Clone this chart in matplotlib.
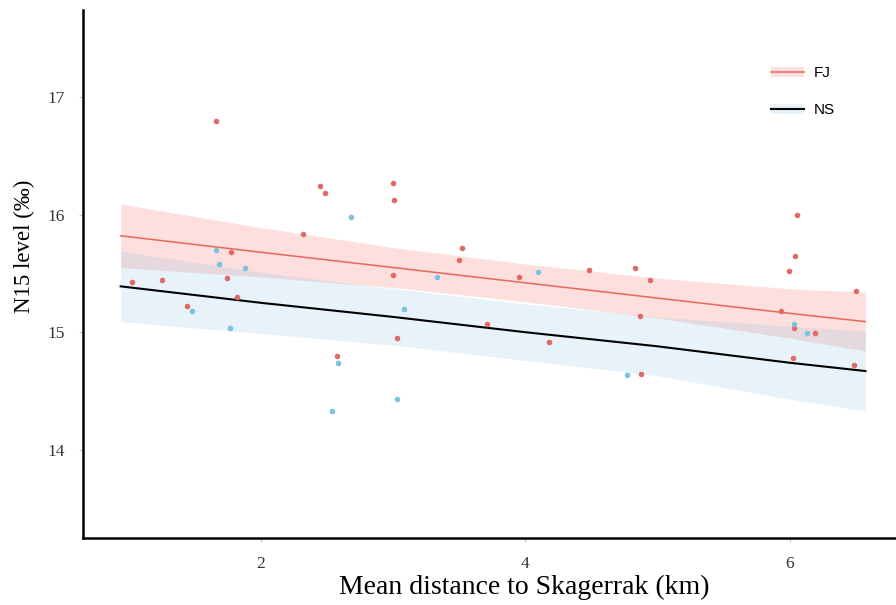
import matplotlib
matplotlib.use("Agg")
from matplotlib import pyplot as plt
from matplotlib.patches import Patch
from matplotlib.lines import Line2D

# scatter points, FJ group
fj_x = [1.657, 2.448, 2.484, 2.998, 3.008, 6.049, 2.322, 3.52, 3.50, 6.037,
        5.99, 1.772, 2.995, 3.95, 4.483, 4.827, 4.943, 6.497, 1.023, 1.255,
        1.742, 1.82, 1.44, 5.933, 4.866, 3.71, 6.03, 6.19, 4.178, 3.03,
        6.02, 6.486, 2.573, 4.877]
fj_y = [16.80, 16.246, 16.18, 16.27, 16.128, 15.998, 15.833, 15.715, 15.615, 15.65,
        15.52, 15.686, 15.49, 15.47, 15.53, 15.547, 15.445, 15.35, 15.43, 15.445,
        15.46, 15.30, 15.22, 15.18, 15.14, 15.07, 15.04, 14.99, 14.92, 14.955,
        14.78, 14.72, 14.795, 14.645]

# scatter points, NS group
ns_x = [2.68, 1.66, 1.68, 1.88, 3.335, 4.097, 3.083, 1.478, 1.77, 6.03,
        6.13, 2.58, 4.77, 3.03, 2.54]
ns_y = [15.978, 15.70, 15.58, 15.545, 15.47, 15.51, 15.20, 15.18, 15.04, 15.07,
        14.99, 14.74, 14.64, 14.43, 14.33]

# fitted lines and confidence bands
fit_x = [0.94, 2, 3, 4, 5, 6, 6.57]
fj_fit = [15.82, 15.68, 15.55, 15.42, 15.29, 15.16, 15.09]
fj_hi = [16.09, 15.89, 15.72, 15.58, 15.46, 15.37, 15.34]
fj_lo = [15.55, 15.47, 15.38, 15.26, 15.12, 14.95, 14.84]
ns_fit = [15.39, 15.25, 15.13, 15.00, 14.88, 14.74, 14.67]
ns_hi = [15.69, 15.51, 15.37, 15.24, 15.13, 15.05, 15.01]
ns_lo = [15.09, 14.99, 14.89, 14.76, 14.63, 14.43, 14.33]

fig = plt.figure(figsize=(8.96, 6.05), dpi=100)
# the panel runs past the right edge of the picture (cropped original)
ax = fig.add_axes([0.0926, 0.1107, 0.984, 0.8728])

ax.fill_between(fit_x, fj_lo, fj_hi, color="#f8766d", alpha=0.22, lw=0)
ax.fill_between(fit_x, ns_lo, ns_hi, color="#7ab8de", alpha=0.18, lw=0)
ax.plot(fit_x, fj_fit, color="#e8675c", lw=1.1)
ax.plot(fit_x, ns_fit, color="black", lw=1.5)

ax.scatter(fj_x, fj_y, s=16, color="#e06a66", lw=0, zorder=3)
ax.scatter(ns_x, ns_y, s=16, color="#7cc3e2", lw=0, zorder=3)

ax.set_xlim(0.655, 7.32)
ax.set_ylim(13.25, 17.74)
ax.set_xticks([2, 4, 6])
ax.set_yticks([14, 15, 16, 17])

for s in ["top", "right"]:
    ax.spines[s].set_visible(False)
for s in ["left", "bottom"]:
    ax.spines[s].set_linewidth(1.8)

ax.tick_params(length=3, width=0.6, color="#bbbbbb", labelsize=12.5, labelcolor="#333333", pad=10)
for lab in ax.get_xticklabels() + ax.get_yticklabels():
    lab.set_family("Liberation Serif")

ax.set_xlabel("Mean distance to Skagerrak (km)", family="Liberation Serif", fontsize=20, labelpad=2)
ax.set_ylabel("N15 level (‰)", family="Liberation Serif", fontsize=16.5)
ax.yaxis.set_label_coords(-0.0544, 0.552)

h_fj = (Patch(facecolor="#f8766d", alpha=0.22, lw=0), Line2D([], [], color="#e8675c", lw=1.1))
h_ns = (Patch(facecolor="#7ab8de", alpha=0.18, lw=0), Line2D([], [], color="black", lw=1.5))
leg = fig.legend([h_fj, h_ns], ["FJ", "NS"], loc="upper left",
                 bbox_to_anchor=(0.8516, 0.903), bbox_transform=fig.transFigure,
                 frameon=False, borderpad=0, handlelength=2.2, handletextpad=0.65,
                 labelspacing=1.5, prop={"family": "Liberation Sans", "size": 11})

plt.savefig("out.png", dpi=100)
